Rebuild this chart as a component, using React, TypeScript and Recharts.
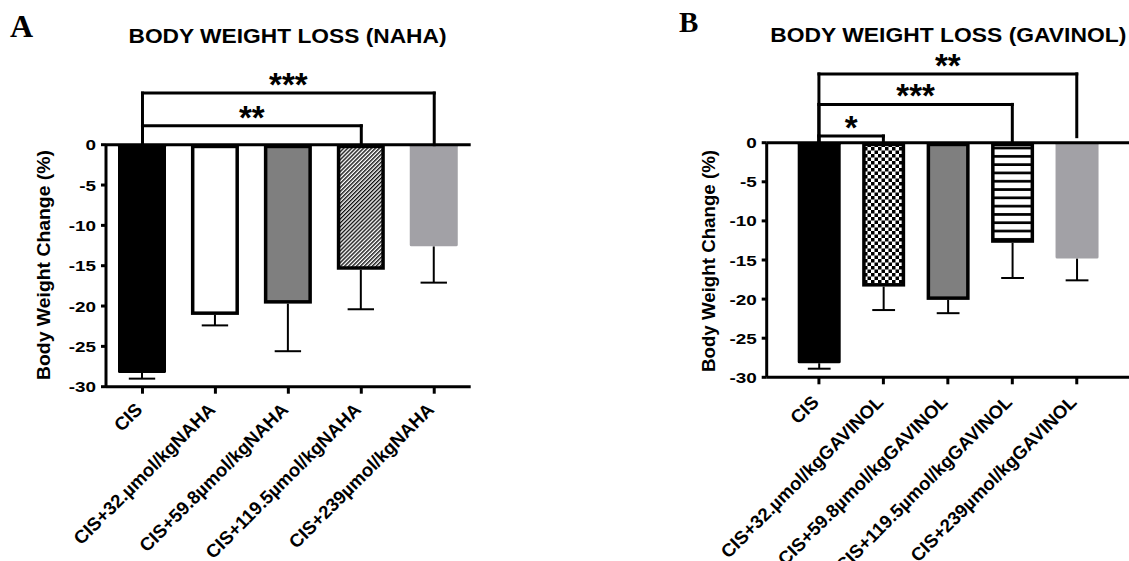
import React from "react";
import { BarChart, Bar, XAxis, YAxis, ReferenceLine } from "recharts";

// ---- data ----
const nahaGroups = [
  "CIS",
  "CIS+32.µmol/kgNAHA",
  "CIS+59.8µmol/kgNAHA",
  "CIS+119.5µmol/kgNAHA",
  "CIS+239µmol/kgNAHA",
];
const nahaMeans = [-28.3, -21.1, -19.7, -15.5, -12.6];
const nahaErrors = [0.7, 1.3, 5.9, 4.9, 4.5];

const gavinolGroups = [
  "CIS",
  "CIS+32.µmol/kgGAVINOL",
  "CIS+59.8µmol/kgGAVINOL",
  "CIS+119.5µmol/kgGAVINOL",
  "CIS+239µmol/kgGAVINOL",
];
const gavinolMeans = [-28.2, -18.4, -20.1, -12.8, -14.8];
const gavinolErrors = [0.7, 3.0, 1.7, 4.5, 2.8];

const yTicks = [0, -5, -10, -15, -20, -25, -30];

// significance brackets: from group, to group, height above 0, label, where the right leg stops
const nahaBrackets = [
  { from: 0, to: 4, level: 6.4, stars: "***", rightEnd: 0 },
  { from: 0, to: 3, level: 2.35, stars: "**", rightEnd: 0 },
];
const gavinolBrackets = [
  { from: 0, to: 4, level: 8.8, stars: "**", rightEnd: 0.77 },
  { from: 0, to: 3, level: 4.9, stars: "***", rightEnd: 0 },
  { from: 0, to: 1, level: 0.86, stars: "*", rightEnd: 0 },
];

const FONT = '"Liberation Sans", Arial, Helvetica, sans-serif';
const SERIF = '"Liberation Serif", "Times New Roman", serif';

const nahaStyles = [
  { fill: "#000000", stroke: "none" },
  { fill: "#ffffff", stroke: "#000000" },
  { fill: "#7f7f7f", stroke: "#000000" },
  { fill: "url(#hatchA)", stroke: "#000000" },
  { fill: "#a2a1a6", stroke: "none" },
];
const gavinolStyles = [
  { fill: "#000000", stroke: "none" },
  { fill: "url(#checkB)", stroke: "#000000" },
  { fill: "#7f7f7f", stroke: "#000000" },
  { fill: "url(#stripeB)", stroke: "#000000" },
  { fill: "#a2a1a6", stroke: "none" },
];

const makeRows = (groups: string[], means: number[], errs: number[]) =>
  groups.map((g, i) => ({ group: g, value: means[i], err: errs[i] }));

const makeShape = (styles: { fill: string; stroke: string }[], capRatio: number) =>
  (props: any) => {
    const { x, y, width, height, payload, index } = props;
    const top = Math.min(y, y + height);
    const h = Math.abs(height);
    const v = Math.abs(payload.value);
    const errPx = v ? (payload.err * h) / v : 0;
    const st = styles[index];
    const sw = st.stroke === "none" ? 0 : 3.5;
    const cx = x + width / 2;
    const bottom = top + h;
    const cap = width * capRatio;
    return (
      <g>
        <line x1={cx} x2={cx} y1={bottom} y2={bottom + errPx} stroke="#000" strokeWidth={2} />
        <line x1={cx - cap / 2} x2={cx + cap / 2} y1={bottom + errPx} y2={bottom + errPx} stroke="#000" strokeWidth={2} />
        <rect
          x={x + sw / 2}
          y={top + sw / 2}
          width={width - sw}
          height={Math.max(h - sw, 0)}
          rx={st.stroke === "none" ? 1.5 : 0}
          fill={st.fill}
          stroke={st.stroke}
          strokeWidth={sw}
        />
      </g>
    );
  };

const StarLabel = (props: any) => {
  const vb = props.viewBox || {};
  const cx = vb.x + (vb.width || 0) / 2;
  return (
    <text x={cx} y={vb.y + 3} textAnchor="middle" fontFamily={FONT} fontWeight="bold" fontSize={33} fill="#000">
      {props.text}
    </text>
  );
};

const RotTick = (props: any) => {
  const { x, y, payload, dy } = props;
  const ax = x + 1;
  const ay = y + dy;
  return (
    <text
      x={ax}
      y={ay}
      transform={`rotate(-45, ${ax}, ${ay})`}
      textAnchor="end"
      fontFamily={FONT}
      fontWeight="bold"
      fontSize={18.5}
      fill="#000"
    >
      {payload.value}
    </text>
  );
};

const YTick = (props: any) => {
  const { x, y, payload } = props;
  return (
    <text
      x={0}
      y={0}
      transform={`translate(${x}, ${y + 5.5}) scale(1.22, 1)`}
      textAnchor="end"
      fontFamily={FONT}
      fontWeight="bold"
      fontSize={15.5}
      fill="#000"
    >
      {payload.value}
    </text>
  );
};

const renderBrackets = (groups: string[], brackets: typeof nahaBrackets) =>
  brackets.flatMap((b, i) => {
    const a = groups[b.from];
    const z = groups[b.to];
    const common = { stroke: "#000", strokeWidth: 3, ifOverflow: "visible" as const, strokeLinecap: "square" as const };
    return [
      <ReferenceLine key={`l${i}`} {...common} segment={[{ x: a, y: 0 }, { x: a, y: b.level }]} />,
      <ReferenceLine key={`r${i}`} {...common} segment={[{ x: z, y: b.rightEnd }, { x: z, y: b.level }]} />,
      <ReferenceLine
        key={`h${i}`}
        {...common}
        segment={[{ x: a, y: b.level }, { x: z, y: b.level }]}
        label={<StarLabel text={b.stars} />}
      />,
    ];
  });

const nahaData = makeRows(nahaGroups, nahaMeans, nahaErrors);
const gavinolData = makeRows(gavinolGroups, gavinolMeans, gavinolErrors);

export default function App() {
  return (
    <div style={{ position: "absolute", left: 0, top: 0, width: 1129, height: 561, background: "#fff", overflow: "hidden" }}>
      {/* panel A */}
      <div style={{ position: "absolute", left: 0, top: 0 }}>
        <BarChart width={560} height={561} data={nahaData} margin={{ top: 144.7, right: 89.3, bottom: 0, left: 0 }}>
          <defs>
            <pattern id="hatchA" width={2.8} height={2.8} patternUnits="userSpaceOnUse" patternTransform="rotate(45)">
              <rect width={2.8} height={2.8} fill="#fff" />
              <line x1={0.7} y1={0} x2={0.7} y2={2.8} stroke="#000" strokeWidth={1.3} />
            </pattern>
          </defs>
          <XAxis
            dataKey="group"
            interval={0}
            height={174.3}
            axisLine={{ stroke: "#000", strokeWidth: 3 }}
            tickLine={{ stroke: "#000", strokeWidth: 3 }}
            tickSize={7}
            tick={<RotTick dy={15} />}
          />
          <YAxis
            domain={[-30, 0]}
            ticks={yTicks}
            width={106}
            interval={0}
            axisLine={{ stroke: "#000", strokeWidth: 3 }}
            tickLine={{ stroke: "#000", strokeWidth: 3 }}
            tickSize={5}
            tickMargin={5}
            tick={<YTick />}
          />
          <Bar dataKey="value" barSize={48} isAnimationActive={false} shape={makeShape(nahaStyles, 0.55)} />
          <ReferenceLine y={0} stroke="#000" strokeWidth={3} />
          {renderBrackets(nahaGroups, nahaBrackets)}
        </BarChart>
      </div>

      {/* panel B */}
      <div style={{ position: "absolute", left: 640, top: 0 }}>
        <BarChart width={489} height={561} data={gavinolData} margin={{ top: 142.7, right: 0, bottom: 0, left: 0 }}>
          <defs>
            <pattern id="checkB" width={7} height={7} patternUnits="userSpaceOnUse">
              <rect width={7} height={7} fill="#fff" />
              <rect x={0} y={0} width={3.5} height={3.5} fill="#000" />
              <rect x={3.5} y={3.5} width={3.5} height={3.5} fill="#000" />
            </pattern>
            <pattern id="stripeB" width={8.3} height={8.3} patternUnits="userSpaceOnUse">
              <rect width={8.3} height={8.3} fill="#fff" />
              <rect x={0} y={5.6} width={8.3} height={2.7} fill="#000" />
            </pattern>
          </defs>
          <XAxis
            dataKey="group"
            interval={0}
            height={183.7}
            padding={{ left: 20, right: 20 }}
            axisLine={{ stroke: "#000", strokeWidth: 3 }}
            tickLine={{ stroke: "#000", strokeWidth: 3 }}
            tickSize={7}
            tick={<RotTick dy={17} />}
          />
          <YAxis
            domain={[-30, 0]}
            ticks={yTicks}
            width={126.7}
            interval={0}
            axisLine={{ stroke: "#000", strokeWidth: 3 }}
            tickLine={{ stroke: "#000", strokeWidth: 3 }}
            tickSize={5}
            tickMargin={5}
            tick={<YTick />}
          />
          <Bar dataKey="value" barSize={43} isAnimationActive={false} shape={makeShape(gavinolStyles, 0.53)} />
          <ReferenceLine y={0} stroke="#000" strokeWidth={3} />
          {renderBrackets(gavinolGroups, gavinolBrackets)}
        </BarChart>
      </div>

      {/* titles, panel letters, y-axis titles */}
      <svg width={1129} height={561} style={{ position: "absolute", left: 0, top: 0, pointerEvents: "none" }}>
        <text x={10} y={36.5} fontFamily={SERIF} fontWeight="bold" fontSize={32} fill="#000">
          A
        </text>
        <text x={679} y={31.7} fontFamily={SERIF} fontWeight="bold" fontSize={29} fill="#000">
          B
        </text>
        <text x={287.5} y={42.7} textAnchor="middle" fontFamily={FONT} fontWeight="bold" fontSize={20} textLength={318} lengthAdjust="spacingAndGlyphs" fill="#000">
          BODY WEIGHT LOSS (NAHA)
        </text>
        <text x={948.3} y={41.7} textAnchor="middle" fontFamily={FONT} fontWeight="bold" fontSize={20} textLength={356} lengthAdjust="spacingAndGlyphs" fill="#000">
          BODY WEIGHT LOSS (GAVINOL)
        </text>
        <text x={50} y={265} transform="rotate(-90, 50, 265)" textAnchor="middle" fontFamily={FONT} fontWeight="bold" fontSize={17.5} textLength={230} lengthAdjust="spacingAndGlyphs" fill="#000">
          Body Weight Change (%)
        </text>
        <text x={714.5} y={261} transform="rotate(-90, 714.5, 261)" textAnchor="middle" fontFamily={FONT} fontWeight="bold" fontSize={17.5} textLength={222} lengthAdjust="spacingAndGlyphs" fill="#000">
          Body Weight Change (%)
        </text>
      </svg>
    </div>
  );
}
